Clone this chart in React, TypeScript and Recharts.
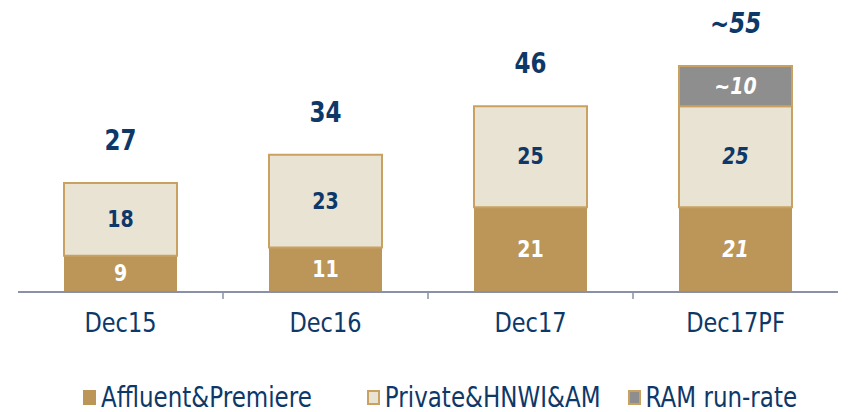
import React from "react";
import { BarChart, Bar, XAxis, YAxis, Legend, LabelList } from "recharts";

const categories = ["Dec15", "Dec16", "Dec17", "Dec17PF"];
const affluent = [9, 11, 21, 21];
const privateHnwi = [18, 23, 25, 25];
const ramRunRate = [0, 0, 0, 10];
const totalLabels = ["27", "34", "46", "~55"];
const ramLabels = ["", "", "", "~10"];
const proForma = [false, false, false, true];

const data = categories.map((name, i) => ({
    name,
    affluent: affluent[i],
    privateHnwi: privateHnwi[i],
    ram: ramRunRate[i],
}));

const FONT = "'DejaVu Sans', sans-serif";
const NAVY = "#0E3868";
const TAN = "#BB9658";
const BEIGE = "#E9E3D3";
const BORDER = "#C9A262";
const GRAY = "#8E8E8E";
const AXIS = "#8A90A6";
const STRETCH = 1.2;

const W = 835;
const PLOT_W = W - 10 - 5;
const STEP = PLOT_W / categories.length;

function Txt({ cx, cy, children, fill, size, bold, italic }: any) {
    return (
        <text
            transform={`translate(${cx},${cy}) scale(1,${STRETCH})`}
            x={0}
            y={0}
            textAnchor="middle"
            dominantBaseline="central"
            fill={fill}
            fontFamily={FONT}
            fontWeight={bold ? "bold" : "normal"}
            fontStyle={italic ? "italic" : "normal"}
            fontSize={size}
        >
            {children}
        </text>
    );
}

function segmentLabel(fill: string, values: (number | string)[]) {
    return (props: any) => {
        const { x, y, width, height, value } = props;
        const i = categories.indexOf(value);
        const v = values[i];
        if (!height || v === "" || v === 0) return null;
        return (
            <Txt cx={x + width / 2} cy={y + height / 2} fill={fill} size={19} bold italic={proForma[i]}>
                {String(v)}
            </Txt>
        );
    };
}

// sits on the Private segment; lifts by the RAM segment (same scale) to reach the stack top
function totalLabel(props: any) {
    const { x, y, width, height, value } = props;
    const i = categories.indexOf(value);
    const top = y - (height * ramRunRate[i]) / privateHnwi[i];
    return (
        <Txt cx={x + width / 2} cy={top - 43} fill={NAVY} size={23} bold italic={proForma[i]}>
            {totalLabels[i]}
        </Txt>
    );
}

function CategoryTick(props: any) {
    const { x, y, payload, index } = props;
    return (
        <g>
            {index < categories.length - 1 && (
                <line x1={x + STEP / 2} x2={x + STEP / 2} y1={y - 8} y2={y - 1} stroke={AXIS} strokeWidth={1.5} />
            )}
            <Txt cx={x} cy={y + 23} fill={NAVY} size={22.5}>
                {payload.value}
            </Txt>
        </g>
    );
}

const legendItems = [
    { label: "Affluent&Premiere", fill: TAN, stroke: TAN, left: 65 },
    { label: "Private&HNWI&AM", fill: BEIGE, stroke: BORDER, left: 55 },
    { label: "RAM run-rate", fill: GRAY, stroke: BORDER, left: 27 },
];

function LegendContent() {
    return (
        <div style={{ display: "flex", paddingTop: 34, fontFamily: FONT, fontSize: 23, color: NAVY }}>
            {legendItems.map((it) => (
                <div key={it.label} style={{ display: "flex", alignItems: "center", gap: 5, marginLeft: it.left }}>
                    <span style={{ width: 9, height: 11, background: it.fill, border: `2px solid ${it.stroke}`, display: "inline-block" }} />
                    <span style={{ display: "inline-block", transform: `scaleY(${STRETCH})` }}>{it.label}</span>
                </div>
            ))}
        </div>
    );
}

export default function App() {
    return (
        <BarChart width={W} height={400} data={data} margin={{ top: 58, right: 5, left: 10, bottom: 0 }} barSize={113}>
            <XAxis
                dataKey="name"
                height={58}
                axisLine={{ stroke: AXIS, strokeWidth: 2 }}
                tickLine={false}
                tick={<CategoryTick />}
                interval={0}
            />
            <YAxis hide domain={[0, 55]} />
            <Legend verticalAlign="bottom" height={58} content={<LegendContent />} />
            <Bar dataKey="affluent" stackId="a" fill={TAN} isAnimationActive={false}>
                <LabelList dataKey="name" content={segmentLabel("#FFFFFF", affluent)} />
            </Bar>
            <Bar dataKey="privateHnwi" stackId="a" fill={BEIGE} stroke={BORDER} strokeWidth={2} isAnimationActive={false}>
                <LabelList dataKey="name" content={segmentLabel(NAVY, privateHnwi)} />
                <LabelList dataKey="name" content={totalLabel} />
            </Bar>
            <Bar dataKey="ram" stackId="a" fill={GRAY} stroke={BORDER} strokeWidth={2} isAnimationActive={false}>
                <LabelList dataKey="name" content={segmentLabel("#FFFFFF", ramLabels)} />
            </Bar>
        </BarChart>
    );
}
